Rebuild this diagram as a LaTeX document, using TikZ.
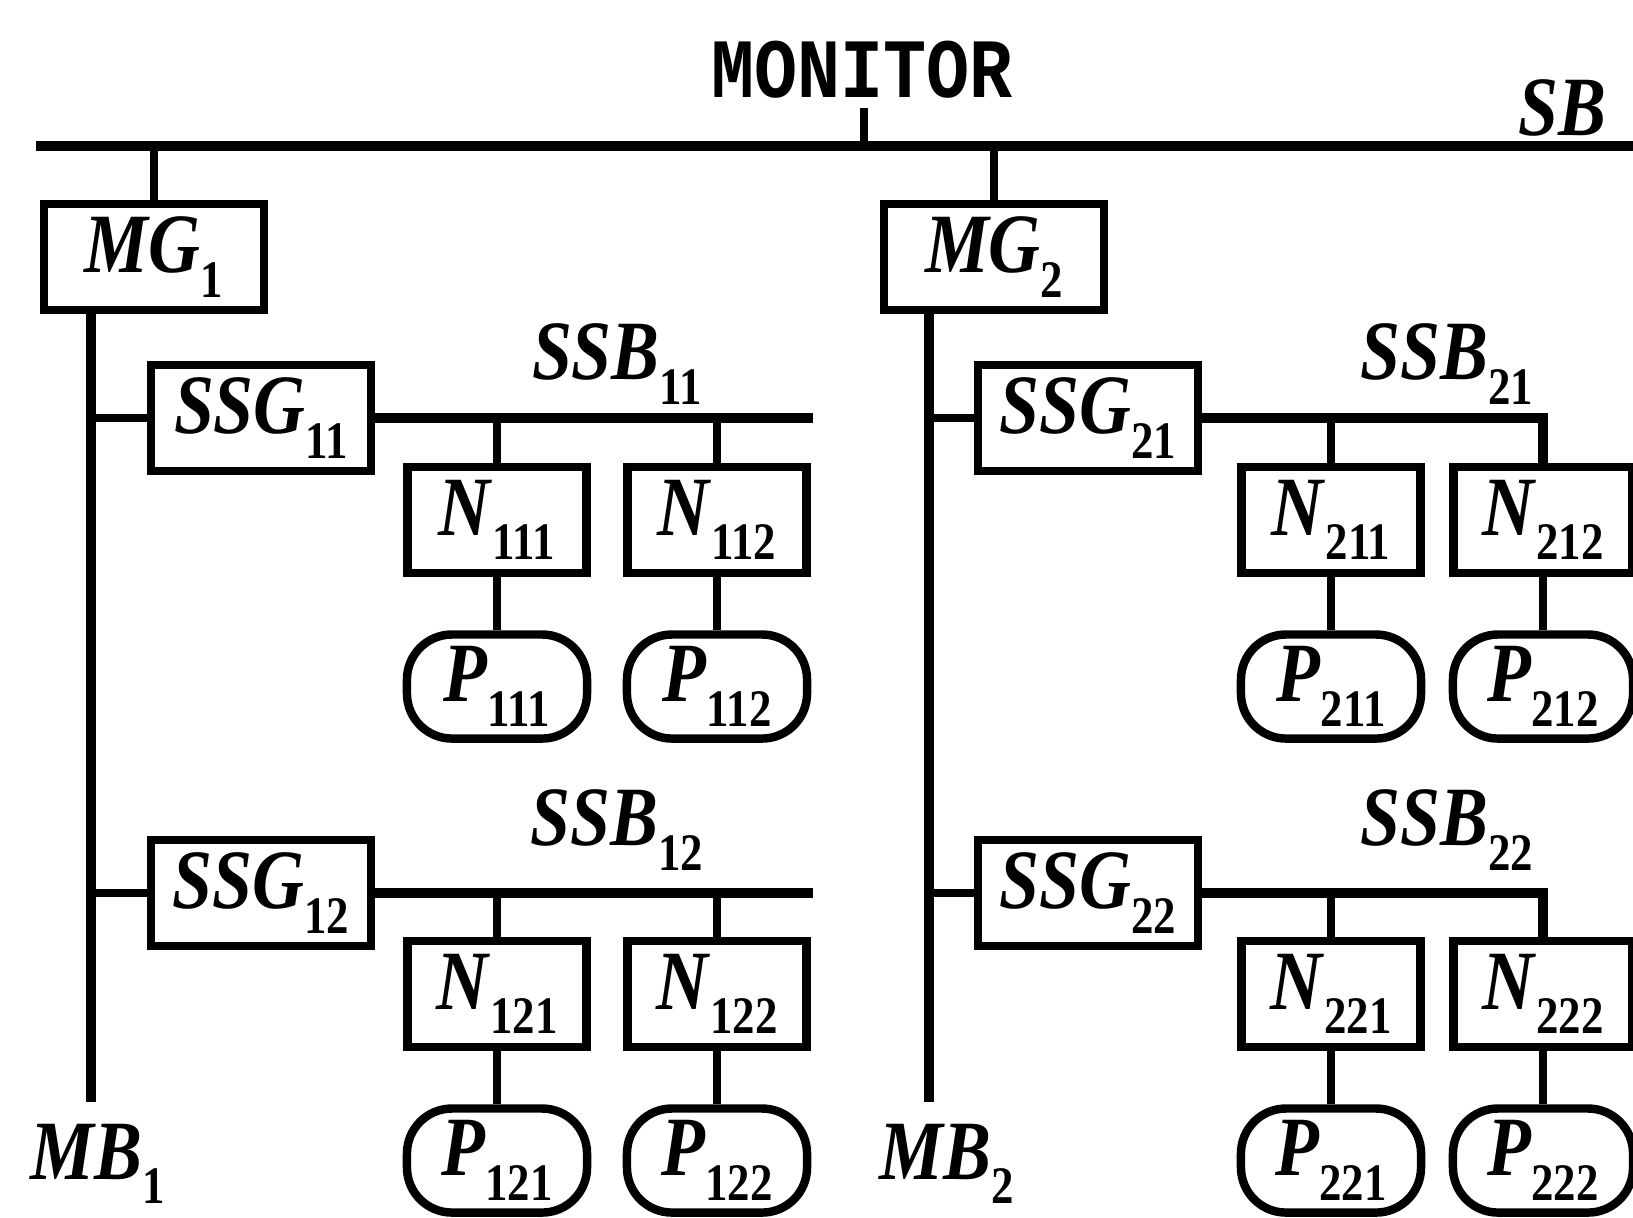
\documentclass[tikz,border=0pt]{standalone}
\usepackage{fontspec}
\setmainfont{Liberation Serif}[FakeStretch=0.85]
\newfontfamily\monitorfont{Liberation Mono}[FakeStretch=0.85]
\usetikzlibrary{positioning, calc}

% label with a low bold subscript
\newcommand{\nm}[2]{\textbf{\textit{#1}}\raisebox{-7pt}{\fontsize{15}{15}\selectfont\bfseries #2}}

\tikzset{
  groupbox/.style={draw, line width=2.4pt, minimum width=2.20cm, minimum height=1.06cm, inner sep=0pt},
  nodebox/.style={draw, line width=2.4pt, minimum width=1.79cm, minimum height=1.06cm, inner sep=0pt},
  procbox/.style={draw, line width=2.4pt, rounded corners=0.45cm, minimum width=1.80cm, minimum height=1.04cm, inner sep=0pt},
  bus/.style={line width=2.6pt},
  link/.style={line width=2.4pt},
  buslabel/.style={inner sep=0pt}
}

\begin{document}
\begin{tikzpicture}[x=0.01cm, y=-0.01cm, font=\fontsize{24}{28}\selectfont]
\useasboundingbox (0,0) rectangle (1633,1218);

% System bus
\coordinate (SBleft) at (36,146);
\coordinate (SBright) at (1633,146);
\draw[bus] (SBleft) -- (SBright);
\node[buslabel] at (862,70) (monitor) {\monitorfont\bfseries MONITOR};
\coordinate (montick) at (864,108);
\draw[link] (montick) -- (montick |- SBleft);
\node[buslabel] at (1562,108) (SB) {\textbf{\textit{SB}}};

% Main groups
\node[groupbox] at (154,257) (MG1) {\nm{MG}{1}};
\node[groupbox] at (994,257) (MG2) {\nm{MG}{2}};
\draw[link] (MG1.north) -- (MG1.north |- SBleft);
\draw[link] (MG2.north) -- (MG2.north |- SBleft);

% Main buses
\coordinate (MB1end) at (91,1102);
\coordinate (MB2end) at (929,1102);
\draw[bus] (MG1.south -| MB1end) -- (MB1end);
\draw[bus] (MG2.south -| MB2end) -- (MB2end);
\node[buslabel] at (98,1164) (MB1) {\nm{MB}{1}};
\node[buslabel] at (947,1164) (MB2) {\nm{MB}{2}};

% Sub-groups
\node[groupbox] at (261,418) (SSG11) {\nm{SSG}{11}};
\node[groupbox] at (261,893) (SSG12) {\nm{SSG}{12}};
\node[groupbox] at (1088,418) (SSG21) {\nm{SSG}{21}};
\node[groupbox] at (1088,893) (SSG22) {\nm{SSG}{22}};
\draw[link] (SSG11.west) -- (SSG11.west -| MB1end);
\draw[link] (SSG12.west) -- (SSG12.west -| MB1end);
\draw[link] (SSG21.west) -- (SSG21.west -| MB2end);
\draw[link] (SSG22.west) -- (SSG22.west -| MB2end);

% Nodes
\node[nodebox] at (497,520) (N111) {\nm{N}{111}};
\node[nodebox] at (717,520) (N112) {\nm{N}{112}};
\node[nodebox] at (497,994) (N121) {\nm{N}{121}};
\node[nodebox] at (717,994) (N122) {\nm{N}{122}};
\node[nodebox] at (1331,520) (N211) {\nm{N}{211}};
\node[nodebox] at (1543,520) (N212) {\nm{N}{212}};
\node[nodebox] at (1331,994) (N221) {\nm{N}{221}};
\node[nodebox] at (1543,994) (N222) {\nm{N}{222}};

% Processors
\node[procbox, below=0.53cm of N111] (P111) {\nm{P}{111}};
\node[procbox, below=0.53cm of N112] (P112) {\nm{P}{112}};
\node[procbox, below=0.53cm of N121] (P121) {\nm{P}{121}};
\node[procbox, below=0.53cm of N122] (P122) {\nm{P}{122}};
\node[procbox, below=0.53cm of N211] (P211) {\nm{P}{211}};
\node[procbox, below=0.53cm of N212] (P212) {\nm{P}{212}};
\node[procbox, below=0.53cm of N221] (P221) {\nm{P}{221}};
\node[procbox, below=0.53cm of N222] (P222) {\nm{P}{222}};
\draw[link] (N111) -- (P111);
\draw[link] (N112) -- (P112);
\draw[link] (N121) -- (P121);
\draw[link] (N122) -- (P122);
\draw[link] (N211) -- (P211);
\draw[link] (N212) -- (P212);
\draw[link] (N221) -- (P221);
\draw[link] (N222) -- (P222);

% Sub-buses
\coordinate (SSB11end) at (813,418);
\coordinate (SSB12end) at (813,893);
\draw[bus] (SSG11.east) -- (SSB11end);
\draw[bus] (SSG12.east) -- (SSB12end);
\draw[bus] (SSG21.east) -| (N212.north);
\draw[bus] (SSG22.east) -| (N222.north);
\draw[link] (N111.north) -- (N111.north |- SSG11.east);
\draw[link] (N112.north) -- (N112.north |- SSG11.east);
\draw[link] (N121.north) -- (N121.north |- SSG12.east);
\draw[link] (N122.north) -- (N122.north |- SSG12.east);
\draw[link] (N211.north) -- (N211.north |- SSG21.east);
\draw[link] (N221.north) -- (N221.north |- SSG22.east);
\node[buslabel] at (617,364) (SSB11) {\nm{SSB}{11}};
\node[buslabel] at (617,830) (SSB12) {\nm{SSB}{12}};
\node[buslabel] at (1447,364) (SSB21) {\nm{SSB}{21}};
\node[buslabel] at (1447,830) (SSB22) {\nm{SSB}{22}};

\end{tikzpicture}
\end{document}
